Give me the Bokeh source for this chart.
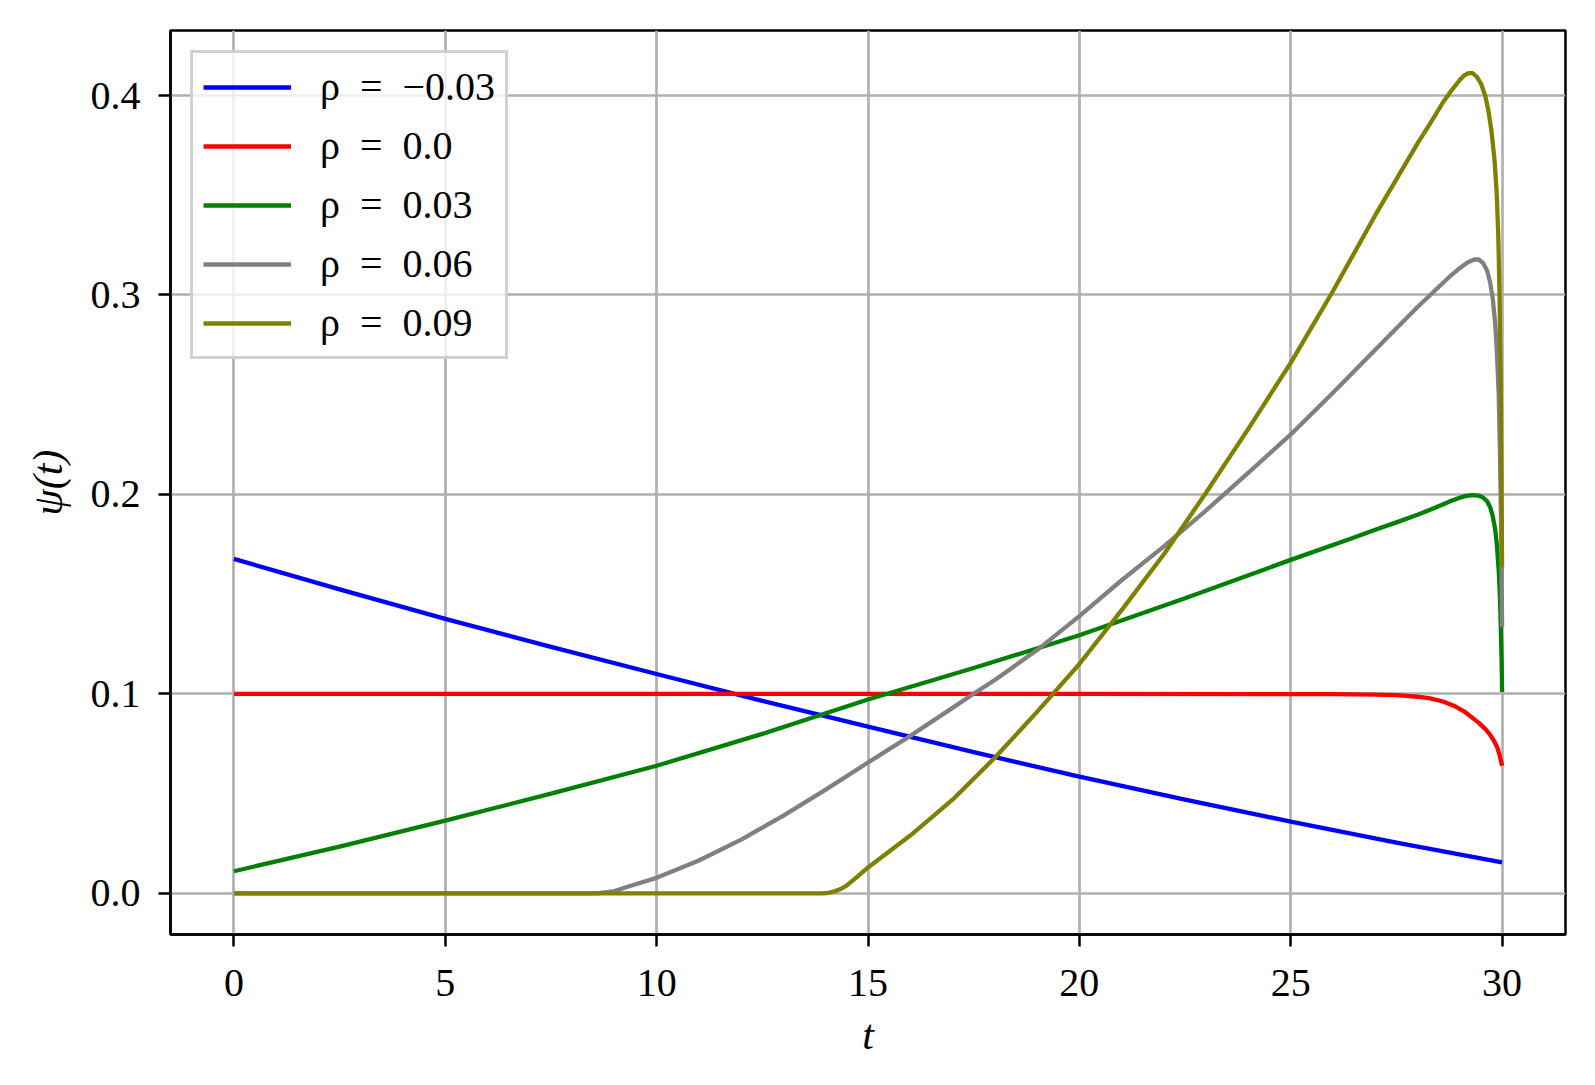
from bokeh.plotting import figure
from bokeh.models import FixedTicker, Range1d, Legend, LegendItem, NumeralTickFormatter
from bokeh.embed import file_html
from bokeh.resources import INLINE

# ---- data ----
t_blue = [0, 2.5, 5, 7.5, 10, 12.5, 15, 17.5, 20, 22.5, 25, 27.5, 30]
psi_blue = [0.1677, 0.1524, 0.1376, 0.1236, 0.1100, 0.0965, 0.0836, 0.0708, 0.0585, 0.0470, 0.0360, 0.0255, 0.0156]

t_red = [0, 5, 10, 15, 20, 25, 26, 27, 27.5, 28, 28.3, 28.6, 28.9, 29.1, 29.3, 29.45, 29.6, 29.7, 29.8, 29.88, 29.94, 30]
psi_red = [0.1000, 0.1000, 0.1000, 0.1000, 0.1000, 0.09995, 0.09990, 0.0997, 0.0994, 0.0986, 0.0978, 0.0962, 0.0937, 0.0913, 0.0880, 0.0855, 0.0825, 0.0800, 0.0768, 0.0735, 0.0695, 0.0640]

t_green = [0, 2.5, 5, 7.5, 10, 12.5, 15, 17.5, 20, 22.5, 25, 26.4, 27, 27.5, 28, 28.4, 28.8, 29.0, 29.15, 29.3, 29.45, 29.55, 29.65, 29.72, 29.78, 29.84, 29.88, 29.92, 29.95, 29.97, 29.99, 30]
psi_green = [0.0111, 0.0235, 0.0365, 0.0500, 0.0640, 0.0800, 0.0972, 0.1130, 0.1294, 0.1480, 0.1672, 0.1777, 0.1823, 0.1860, 0.1898, 0.1932, 0.1968, 0.1984, 0.1993, 0.1997, 0.1994, 0.1985, 0.1965, 0.1935, 0.1890, 0.1820, 0.1740, 0.1620, 0.1480, 0.1330, 0.1150, 0.1010]

t_gray = [0, 5, 8.6, 9.0, 9.37, 10, 11, 12, 12.5, 13, 14, 15, 16, 17, 17.49, 18, 19, 20, 21, 22, 23, 24, 25, 26, 27, 28, 28.5, 28.8, 29.0, 29.2, 29.35, 29.45, 29.55, 29.65, 29.72, 29.78, 29.84, 29.88, 29.92, 29.95, 29.98, 30]
psi_gray = [0.0, 0.0, 0.0, 0.0012, 0.0037, 0.0078, 0.0165, 0.0270, 0.0330, 0.0390, 0.0520, 0.0656, 0.0790, 0.0930, 0.1000, 0.1070, 0.1220, 0.1390, 0.1570, 0.1740, 0.1920, 0.2110, 0.2301, 0.2510, 0.2725, 0.2940, 0.3040, 0.3100, 0.3135, 0.3165, 0.3178, 0.3178, 0.3160, 0.3120, 0.3060, 0.2980, 0.2850, 0.2700, 0.2500, 0.2200, 0.1800, 0.1335]

t_olive = [0, 5, 10, 13.9, 14.05, 14.2, 14.35, 14.5, 14.7, 15, 15.5, 16, 17, 18, 19, 20, 21, 22, 23, 24, 25, 26, 27, 28, 28.3, 28.6, 28.8, 29.0, 29.1, 29.2, 29.3, 29.4, 29.5, 29.6, 29.68, 29.75, 29.82, 29.87, 29.91, 29.94, 29.97, 30]
psi_olive = [0.0, 0.0, 0.0, 0.0, 0.0002, 0.0010, 0.0022, 0.0040, 0.0075, 0.0130, 0.0210, 0.0290, 0.0470, 0.0680, 0.0910, 0.1150, 0.1420, 0.1700, 0.2010, 0.2330, 0.2660, 0.3020, 0.3400, 0.3760, 0.3860, 0.3965, 0.4025, 0.4078, 0.4100, 0.4112, 0.4112, 0.4095, 0.4060, 0.4000, 0.3920, 0.3820, 0.3680, 0.3520, 0.3300, 0.3000, 0.2500, 0.1635]

series = [
    ("\u03c1\u2002=\u2002\u22120.03", t_blue, psi_blue, "blue"),
    ("\u03c1\u2002=\u20020.0", t_red, psi_red, "red"),
    ("\u03c1\u2002=\u20020.03", t_green, psi_green, "green"),
    ("\u03c1\u2002=\u20020.06", t_gray, psi_gray, "gray"),
    ("\u03c1\u2002=\u20020.09", t_olive, psi_olive, "olive"),
]

x_ticks = [0, 5, 10, 15, 20, 25, 30]
y_ticks = [0.0, 0.1, 0.2, 0.3, 0.4]

FONT = "Liberation Serif"

p = figure(width=1579, height=1069, output_backend="svg", toolbar_location=None,
           x_range=Range1d(-1.5, 31.5), y_range=Range1d(-0.0206, 0.4326),
           min_border_left=170, min_border_right=14, min_border_top=30, min_border_bottom=135,
           background_fill_color="white", border_fill_color="white")

p.outline_line_color = "black"
p.outline_line_width = 2.5
p.outline_line_alpha = 1.0

items = []
for label, xs, ys, col in series:
    r = p.line(xs, ys, line_color=col, line_width=4.3, line_join="round")
    items.append(LegendItem(label=label, renderers=[r]))

legend = Legend(items=items, location="top_left", margin=20, padding=10,
                glyph_width=88, glyph_height=40, label_height=40, spacing=12,
                label_standoff=29, label_text_font=FONT, label_text_font_size="40px",
                label_text_color="black",
                border_line_color="#cccccc", border_line_width=3, border_line_alpha=0.9,
                background_fill_color="white", background_fill_alpha=0.8)
p.add_layout(legend, "center")

for g in (p.xgrid, p.ygrid):
    g.grid_line_color = "#b0b0b0"
    g.grid_line_width = 2.7

p.xaxis.ticker = FixedTicker(ticks=x_ticks)
p.yaxis.ticker = FixedTicker(ticks=y_ticks)
p.yaxis.formatter = NumeralTickFormatter(format="0.0")

for ax in (p.xaxis, p.yaxis):
    ax.axis_line_color = "black"
    ax.axis_line_width = 2.5
    ax.major_tick_line_color = "black"
    ax.major_tick_line_width = 2.5
    ax.major_tick_out = 12
    ax.major_tick_in = 0
    ax.minor_tick_line_color = None
    ax.major_label_text_font = FONT
    ax.major_label_text_font_size = "40px"
    ax.major_label_text_color = "black"
    ax.axis_label_text_font = FONT
    ax.axis_label_text_font_size = "42px"
    ax.axis_label_text_font_style = "italic"
    ax.axis_label_text_color = "black"

p.xaxis.major_label_standoff = 23
p.yaxis.major_label_standoff = 18
p.xaxis.axis_label = "t"
p.yaxis.axis_label = "\u03c8(t)"
p.xaxis.axis_label_standoff = 13
p.yaxis.axis_label_standoff = 17

open("out.html", "w").write(file_html(p, INLINE))
